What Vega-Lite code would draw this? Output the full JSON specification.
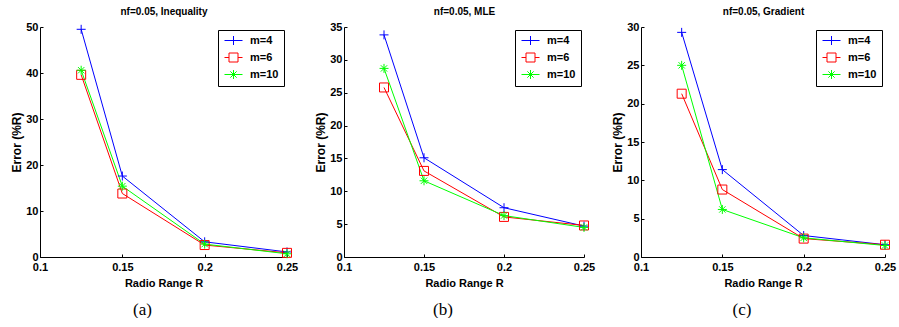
{
  "$schema": "https://vega.github.io/schema/vega-lite/v6.json",
  "background": "white",
  "padding": {"left": 10, "top": 6, "right": 5, "bottom": 0},
  "spacing": 16,
  "datasets": {
    "errs": [
      {"panel": "a", "R": 0.125, "m": "m=4", "err": 49.5},
      {"panel": "a", "R": 0.15, "m": "m=4", "err": 17.6},
      {"panel": "a", "R": 0.2, "m": "m=4", "err": 3.3},
      {"panel": "a", "R": 0.25, "m": "m=4", "err": 1.1},
      {"panel": "a", "R": 0.125, "m": "m=6", "err": 39.6},
      {"panel": "a", "R": 0.15, "m": "m=6", "err": 13.8},
      {"panel": "a", "R": 0.2, "m": "m=6", "err": 2.6},
      {"panel": "a", "R": 0.25, "m": "m=6", "err": 0.9},
      {"panel": "a", "R": 0.125, "m": "m=10", "err": 40.6},
      {"panel": "a", "R": 0.15, "m": "m=10", "err": 15.4},
      {"panel": "a", "R": 0.2, "m": "m=10", "err": 2.8},
      {"panel": "a", "R": 0.25, "m": "m=10", "err": 0.7},
      {"panel": "b", "R": 0.125, "m": "m=4", "err": 33.8},
      {"panel": "b", "R": 0.15, "m": "m=4", "err": 15.1},
      {"panel": "b", "R": 0.2, "m": "m=4", "err": 7.5},
      {"panel": "b", "R": 0.25, "m": "m=4", "err": 4.7},
      {"panel": "b", "R": 0.125, "m": "m=6", "err": 25.8},
      {"panel": "b", "R": 0.15, "m": "m=6", "err": 13.1},
      {"panel": "b", "R": 0.2, "m": "m=6", "err": 6.1},
      {"panel": "b", "R": 0.25, "m": "m=6", "err": 4.8},
      {"panel": "b", "R": 0.125, "m": "m=10", "err": 28.7},
      {"panel": "b", "R": 0.15, "m": "m=10", "err": 11.6},
      {"panel": "b", "R": 0.2, "m": "m=10", "err": 6.3},
      {"panel": "b", "R": 0.25, "m": "m=10", "err": 4.5},
      {"panel": "c", "R": 0.125, "m": "m=4", "err": 29.3},
      {"panel": "c", "R": 0.15, "m": "m=4", "err": 11.4},
      {"panel": "c", "R": 0.2, "m": "m=4", "err": 2.8},
      {"panel": "c", "R": 0.25, "m": "m=4", "err": 1.6},
      {"panel": "c", "R": 0.125, "m": "m=6", "err": 21.3},
      {"panel": "c", "R": 0.15, "m": "m=6", "err": 8.8},
      {"panel": "c", "R": 0.2, "m": "m=6", "err": 2.4},
      {"panel": "c", "R": 0.25, "m": "m=6", "err": 1.6},
      {"panel": "c", "R": 0.125, "m": "m=10", "err": 25.0},
      {"panel": "c", "R": 0.15, "m": "m=10", "err": 6.2},
      {"panel": "c", "R": 0.2, "m": "m=10", "err": 2.5},
      {"panel": "c", "R": 0.25, "m": "m=10", "err": 1.5}
    ]
  },
  "resolve": {"scale": {"x": "independent", "y": "independent", "color": "independent", "shape": "independent"}},
  "hconcat": [
    {
      "width": 247, "height": 230,
      "data": {"name": "errs"},
      "transform": [{"filter": "datum.panel === 'a'"}],
      "title": {"text": "(a)", "orient": "bottom", "frame": "group", "anchor": "middle", "dx": -21},
      "resolve": {"axis": {"x": "independent"}, "scale": {"color": "independent", "shape": "independent"}},
      "layer": [
        {
          "mark": {"type": "line", "strokeWidth": 1},
          "encoding": {
            "x": {"field": "R", "type": "quantitative", "scale": {"domain": [0.1, 0.25], "nice": false, "zero": false},
                  "axis": {"orient": "bottom", "values": [0.1, 0.15, 0.2, 0.25], "format": "~g", "title": "Radio Range R"}},
            "y": {"field": "err", "type": "quantitative", "scale": {"domain": [0, 50], "nice": false},
                  "axis": {"values": [0, 10, 20, 30, 40, 50], "title": "Error (%R)"}},
            "color": {"field": "m", "type": "nominal", "legend": null, "scale": {"domain": ["m=4", "m=6", "m=10"], "range": ["#0000ff", "#ff0000", "#00ff00"]}}
          }
        },
        {
          "mark": {"type": "point", "filled": false, "size": 81, "strokeWidth": 1, "opacity": 1},
          "encoding": {
            "x": {"field": "R", "type": "quantitative",
                  "axis": {"orient": "top", "labels": false, "ticks": false, "domain": false, "title": "nf=0.05, Inequality", "titleFontSize": 10, "titlePadding": 11}},
            "y": {"field": "err", "type": "quantitative", "axis": {"values": [0, 10, 20, 30, 40, 50], "title": "Error (%R)"}},
            "color": {"field": "m", "type": "nominal", "legend": null, "scale": {"domain": ["m=4", "m=6", "m=10"], "range": ["#0000ff", "#ff0000", "#00ff00"]}},
            "shape": {"field": "m", "type": "nominal", "legend": null, "scale": {"domain": ["m=4", "m=6", "m=10"], "range": ["M-1,0L1,0M0,-1L0,1", "square", "M-1,0L1,0M0,-1L0,1M-0.7,-0.7L0.7,0.7M-0.7,0.7L0.7,-0.7"]}}
          }
        },
        {
          "mark": {"type": "point", "filled": false, "size": 81, "strokeWidth": 1, "opacity": 0},
          "encoding": {
            "x": {"field": "R", "type": "quantitative", "axis": null},
            "y": {"field": "err", "type": "quantitative", "axis": {"values": [0, 10, 20, 30, 40, 50], "title": "Error (%R)"}},
            "color": {"field": "m", "type": "nominal", "scale": {"domain": ["m=4", "m=6", "m=10"], "range": ["#0000ff", "#ff0000", "#00ff00"]},
                      "legend": {"orient": "top-right", "offset": 3, "title": null, "symbolSize": 81, "symbolOffset": 5, "labelOffset": 11, "padding": 5, "rowPadding": 4, "strokeColor": "black", "fillColor": "white", "symbolStrokeWidth": 1, "symbolOpacity": 1}},
            "shape": {"field": "m", "type": "nominal", "scale": {"domain": ["m=4", "m=6", "m=10"], "range": ["M-2,0L2,0M0,-1L0,1", "M-2,0L-1,0M1,0L2,0M-1,-1L1,-1L1,1L-1,1Z", "M-2,0L2,0M0,-1L0,1M-0.7,-0.7L0.7,0.7M-0.7,0.7L0.7,-0.7"]},
                      "legend": {"orient": "top-right", "offset": 3, "title": null, "symbolSize": 81, "symbolOffset": 5, "labelOffset": 11, "padding": 5, "rowPadding": 4, "strokeColor": "black", "fillColor": "white", "symbolStrokeWidth": 1, "symbolOpacity": 1}}
          }
        }
      ]
    },
    {
      "width": 240, "height": 230,
      "data": {"name": "errs"},
      "transform": [{"filter": "datum.panel === 'b'"}],
      "title": {"text": "(b)", "orient": "bottom", "frame": "group", "anchor": "middle", "dx": -21},
      "resolve": {"axis": {"x": "independent"}, "scale": {"color": "independent", "shape": "independent"}},
      "layer": [
        {
          "mark": {"type": "line", "strokeWidth": 1},
          "encoding": {
            "x": {"field": "R", "type": "quantitative", "scale": {"domain": [0.1, 0.25], "nice": false, "zero": false},
                  "axis": {"orient": "bottom", "values": [0.1, 0.15, 0.2, 0.25], "format": "~g", "title": "Radio Range R"}},
            "y": {"field": "err", "type": "quantitative", "scale": {"domain": [0, 35], "nice": false},
                  "axis": {"values": [0, 5, 10, 15, 20, 25, 30, 35], "title": "Error (%R)"}},
            "color": {"field": "m", "type": "nominal", "legend": null, "scale": {"domain": ["m=4", "m=6", "m=10"], "range": ["#0000ff", "#ff0000", "#00ff00"]}}
          }
        },
        {
          "mark": {"type": "point", "filled": false, "size": 81, "strokeWidth": 1, "opacity": 1},
          "encoding": {
            "x": {"field": "R", "type": "quantitative",
                  "axis": {"orient": "top", "labels": false, "ticks": false, "domain": false, "title": "nf=0.05, MLE", "titleFontSize": 10, "titlePadding": 11}},
            "y": {"field": "err", "type": "quantitative", "axis": {"values": [0, 5, 10, 15, 20, 25, 30, 35], "title": "Error (%R)"}},
            "color": {"field": "m", "type": "nominal", "legend": null, "scale": {"domain": ["m=4", "m=6", "m=10"], "range": ["#0000ff", "#ff0000", "#00ff00"]}},
            "shape": {"field": "m", "type": "nominal", "legend": null, "scale": {"domain": ["m=4", "m=6", "m=10"], "range": ["M-1,0L1,0M0,-1L0,1", "square", "M-1,0L1,0M0,-1L0,1M-0.7,-0.7L0.7,0.7M-0.7,0.7L0.7,-0.7"]}}
          }
        },
        {
          "mark": {"type": "point", "filled": false, "size": 81, "strokeWidth": 1, "opacity": 0},
          "encoding": {
            "x": {"field": "R", "type": "quantitative", "axis": null},
            "y": {"field": "err", "type": "quantitative", "axis": {"values": [0, 5, 10, 15, 20, 25, 30, 35], "title": "Error (%R)"}},
            "color": {"field": "m", "type": "nominal", "scale": {"domain": ["m=4", "m=6", "m=10"], "range": ["#0000ff", "#ff0000", "#00ff00"]},
                      "legend": {"orient": "top-right", "offset": 3, "title": null, "symbolSize": 81, "symbolOffset": 5, "labelOffset": 11, "padding": 5, "rowPadding": 4, "strokeColor": "black", "fillColor": "white", "symbolStrokeWidth": 1, "symbolOpacity": 1}},
            "shape": {"field": "m", "type": "nominal", "scale": {"domain": ["m=4", "m=6", "m=10"], "range": ["M-2,0L2,0M0,-1L0,1", "M-2,0L-1,0M1,0L2,0M-1,-1L1,-1L1,1L-1,1Z", "M-2,0L2,0M0,-1L0,1M-0.7,-0.7L0.7,0.7M-0.7,0.7L0.7,-0.7"]},
                      "legend": {"orient": "top-right", "offset": 3, "title": null, "symbolSize": 81, "symbolOffset": 5, "labelOffset": 11, "padding": 5, "rowPadding": 4, "strokeColor": "black", "fillColor": "white", "symbolStrokeWidth": 1, "symbolOpacity": 1}}
          }
        }
      ]
    },
    {
      "width": 244, "height": 230,
      "data": {"name": "errs"},
      "transform": [{"filter": "datum.panel === 'c'"}],
      "title": {"text": "(c)", "orient": "bottom", "frame": "group", "anchor": "middle", "dx": -21},
      "resolve": {"axis": {"x": "independent"}, "scale": {"color": "independent", "shape": "independent"}},
      "layer": [
        {
          "mark": {"type": "line", "strokeWidth": 1},
          "encoding": {
            "x": {"field": "R", "type": "quantitative", "scale": {"domain": [0.1, 0.25], "nice": false, "zero": false},
                  "axis": {"orient": "bottom", "values": [0.1, 0.15, 0.2, 0.25], "format": "~g", "title": "Radio Range R"}},
            "y": {"field": "err", "type": "quantitative", "scale": {"domain": [0, 30], "nice": false},
                  "axis": {"values": [0, 5, 10, 15, 20, 25, 30], "title": "Error (%R)"}},
            "color": {"field": "m", "type": "nominal", "legend": null, "scale": {"domain": ["m=4", "m=6", "m=10"], "range": ["#0000ff", "#ff0000", "#00ff00"]}}
          }
        },
        {
          "mark": {"type": "point", "filled": false, "size": 81, "strokeWidth": 1, "opacity": 1},
          "encoding": {
            "x": {"field": "R", "type": "quantitative",
                  "axis": {"orient": "top", "labels": false, "ticks": false, "domain": false, "title": "nf=0.05, Gradient", "titleFontSize": 10, "titlePadding": 11}},
            "y": {"field": "err", "type": "quantitative", "axis": {"values": [0, 5, 10, 15, 20, 25, 30], "title": "Error (%R)"}},
            "color": {"field": "m", "type": "nominal", "legend": null, "scale": {"domain": ["m=4", "m=6", "m=10"], "range": ["#0000ff", "#ff0000", "#00ff00"]}},
            "shape": {"field": "m", "type": "nominal", "legend": null, "scale": {"domain": ["m=4", "m=6", "m=10"], "range": ["M-1,0L1,0M0,-1L0,1", "square", "M-1,0L1,0M0,-1L0,1M-0.7,-0.7L0.7,0.7M-0.7,0.7L0.7,-0.7"]}}
          }
        },
        {
          "mark": {"type": "point", "filled": false, "size": 81, "strokeWidth": 1, "opacity": 0},
          "encoding": {
            "x": {"field": "R", "type": "quantitative", "axis": null},
            "y": {"field": "err", "type": "quantitative", "axis": {"values": [0, 5, 10, 15, 20, 25, 30], "title": "Error (%R)"}},
            "color": {"field": "m", "type": "nominal", "scale": {"domain": ["m=4", "m=6", "m=10"], "range": ["#0000ff", "#ff0000", "#00ff00"]},
                      "legend": {"orient": "top-right", "offset": 3, "title": null, "symbolSize": 81, "symbolOffset": 5, "labelOffset": 11, "padding": 5, "rowPadding": 4, "strokeColor": "black", "fillColor": "white", "symbolStrokeWidth": 1, "symbolOpacity": 1}},
            "shape": {"field": "m", "type": "nominal", "scale": {"domain": ["m=4", "m=6", "m=10"], "range": ["M-2,0L2,0M0,-1L0,1", "M-2,0L-1,0M1,0L2,0M-1,-1L1,-1L1,1L-1,1Z", "M-2,0L2,0M0,-1L0,1M-0.7,-0.7L0.7,0.7M-0.7,0.7L0.7,-0.7"]},
                      "legend": {"orient": "top-right", "offset": 3, "title": null, "symbolSize": 81, "symbolOffset": 5, "labelOffset": 11, "padding": 5, "rowPadding": 4, "strokeColor": "black", "fillColor": "white", "symbolStrokeWidth": 1, "symbolOpacity": 1}}
          }
        }
      ]
    }
  ],
  "config": {
    "view": {"stroke": null},
    "font": "Liberation Sans",
    "axis": {
      "grid": false,
      "domainColor": "#000000",
      "domainWidth": 1,
      "tickColor": "#000000",
      "tickSize": -3,
      "labelPadding": 5,
      "labelFont": "Liberation Sans",
      "labelFontWeight": "bold",
      "labelFontSize": 11,
      "labelColor": "#000000",
      "titleFont": "Liberation Sans",
      "titleFontWeight": "bold",
      "titleColor": "#000000"
    },
    "axisX": {"titleFontSize": 11, "titlePadding": 5, "labelPadding": 7, "labelFlush": false},
    "axisY": {"titleFontSize": 12, "titlePadding": 2},
    "legend": {"labelFont": "Liberation Sans", "labelFontWeight": "bold", "labelFontSize": 11, "labelColor": "#000000", "cornerRadius": 0, "strokeWidth": 1},
    "title": {"font": "Liberation Serif", "fontWeight": "normal", "fontSize": 17, "color": "#000000", "offset": 14}
  }
}
